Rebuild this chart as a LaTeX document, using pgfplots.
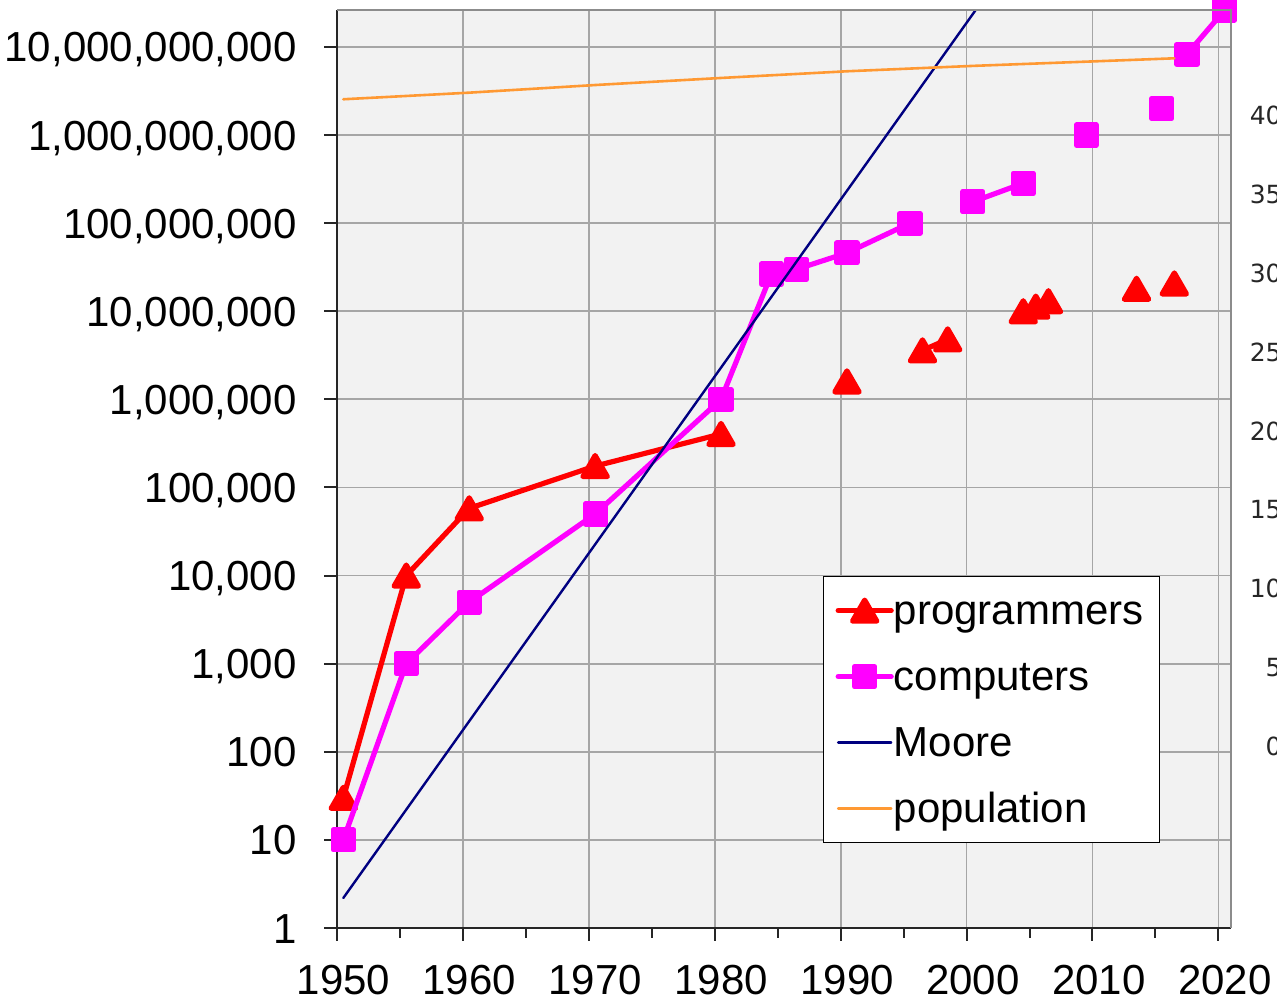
\documentclass[border=0pt]{standalone}
\usepackage{fontspec}
\setmainfont{Liberation Sans}
\newfontfamily\rfont{DejaVu Sans}
\usepackage{pgfplots}
\pgfplotsset{compat=1.18}
\definecolor{bgc}{HTML}{F2F2F2}
\definecolor{gridc}{HTML}{A6A6A6}
\definecolor{frame}{HTML}{8C8C8C}
\definecolor{prog}{HTML}{FF0000}
\definecolor{comp}{HTML}{FF00FF}
\definecolor{moore}{HTML}{000080}
\definecolor{pop}{HTML}{FF9933}
\definecolor{rtick}{HTML}{262626}
\begin{document}
\begin{tikzpicture}
\begin{axis}[
  name=main,
  at={(168.5pt,38.5pt)}, anchor=south west,
  scale only axis, width=447pt, height=459pt,
  xmin=1950, xmax=2021,
  ymode=log, log basis y=10, ymin=1, ymax=2.63e10,
  axis background/.style={fill=bgc},
  axis x line*=bottom, axis y line*=left,
  axis line style={line width=1pt, color=black!85},
  xtick={1950,1960,1970,1980,1990,2000,2010,2020},
  xticklabels={1950,1960,1970,1980,1990,2000,2010,2020},
  minor xtick={1955,1965,1975,1985,1995,2005,2015},
  ytick={1,10,100,1000,1e4,1e5,1e6,1e7,1e8,1e9,1e10},
  yticklabels={1,10,100,{1,000},{10,000},{100,000},{1,000,000},{10,000,000},{100,000,000},{1,000,000,000},{10,000,000,000}},
  yminorticks=false,
  tick align=outside, major tick length=6.5pt, minor tick length=5pt,
  every tick/.style={line width=1pt, color=black!85},
  xmajorgrids, ymajorgrids, xminorgrids=false,
  major grid style={line width=0.9pt, color=gridc},
  ticklabel style={font=\fontsize{21}{25}\selectfont, inner sep=0pt},
  xticklabel style={anchor=north, yshift=-12pt, xshift=3.2pt},
  yticklabel style={anchor=base east, xshift=-13.5pt, yshift=-7.5pt},
  clip mode=individual,
  unbounded coords=jump,
  legend style={at={(0.5436,0.3834)}, anchor=north west, draw=black, line width=0.6pt, fill=white,
    font=\fontsize{21}{25}\selectfont, inner xsep=6pt, inner ysep=7pt, row sep=13pt, column sep=0pt,
    nodes={inner sep=0pt, text height=17pt, text depth=3pt}},
  legend cell align=left,
  legend image code/.code={\draw[mark repeat=2,mark phase=2,#1] plot coordinates {(0pt,0pt) (13.25pt,0pt) (26.5pt,0pt)};},
]
\addplot[color=prog, line width=2.6pt, line cap=round, line join=round, mark=triangle*, mark size=7pt,
  mark options={solid, draw=none, fill=prog, yshift=-1.75pt}] coordinates {
  (1950.5,30) (1955.5,1e4) (1960.5,58000) (1970.5,175000) (1980.5,4.05e5)
  (1985,nan)
  (1990.5,1.6e6)
  (1993,nan)
  (1996.5,3.6e6) (1998.5,4.8e6)
  (2001,nan)
  (2004.5,1e7) (2005.5,1.13e7) (2006.5,1.3e7)
  (2010,nan)
  (2013.5,1.8e7)
  (2015,nan)
  (2016.5,2.07e7)
};
\addlegendentry{\makebox[127pt][l]{programmers}}
\addplot[color=comp, line width=2.6pt, line cap=round, line join=round, mark=square*, mark size=5pt,
  mark options={solid, draw=none, fill=comp}] coordinates {
  (1950.5,10) (1955.5,1000) (1960.5,5000) (1970.5,50000) (1980.5,1e6)
  (1984.5,2.65e7) (1986.5,3.0e7) (1990.5,4.6e7) (1995.5,1e8)
  (1998,nan)
  (2000.5,1.75e8) (2004.5,2.84e8)
  (2007,nan)
  (2009.5,1e9)
  (2012,nan)
  (2015.5,2e9)
  (2016.5,nan)
  (2017.5,8.26e9) (2020.5,2.63e10)
};
\addlegendentry{computers}
\addplot[color=moore, line width=1.2pt, line cap=round] coordinates {
  (1950.5,2.19) (2002.5,5.97e10)
};
\addlegendentry{Moore}
\addplot[color=pop, line width=1.3pt, line cap=round, line join=round] coordinates {
  (1950.5,2.55e9) (1960.5,3.03e9) (1970.5,3.7e9) (1980.5,4.45e9) (1990.5,5.3e9)
  (2000.5,6.1e9) (2010.5,6.9e9) (2016.5,7.44e9)
};
\addlegendentry{population}
\end{axis}
\draw[frame, line width=1.2pt] (main.north west) -- (main.north east) -- (main.south east);
\begin{axis}[
  at={(168.5pt,38.5pt)}, anchor=south west,
  scale only axis, width=447pt, height=459pt,
  xmin=0, xmax=1, ymin=-11.51, ymax=46.70,
  hide x axis, axis y line*=right,
  y axis line style={draw=none},
  ytick={0,5,10,15,20,25,30,35,40},
  yticklabels={0,5,10,15,20,25,30,35,40},
  major tick length=0pt, every tick/.style={draw=none},
  yticklabel style={font=\rfont\fontsize{12.5}{14}\selectfont, color=rtick, anchor=east, inner sep=0pt, xshift=25.5pt},
]
\addplot[draw=none] coordinates {(0,0)};
\end{axis}
\pgfresetboundingbox
\useasboundingbox (0,0) rectangle (638.5pt,502.5pt);
\end{tikzpicture}
\end{document}
